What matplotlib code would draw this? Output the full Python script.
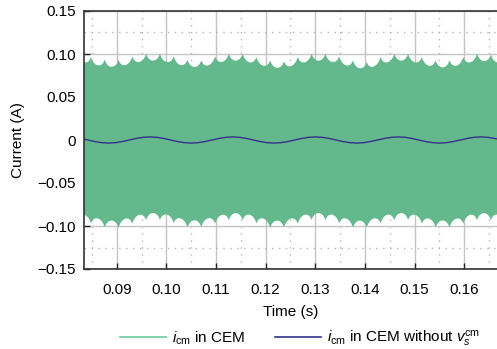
import numpy as np
import matplotlib
matplotlib.use("Agg")
from matplotlib import pyplot as plt
from matplotlib.lines import Line2D
from matplotlib.ticker import MultipleLocator

plt.rcParams['font.family'] = ['Liberation Sans', 'DejaVu Sans']
plt.rcParams['mathtext.fontset'] = 'custom'
plt.rcParams['mathtext.rm'] = 'Liberation Sans'
plt.rcParams['mathtext.it'] = 'Liberation Sans:italic'
plt.rcParams['axes.unicode_minus'] = True

# switching instants of the envelope cusps (s)
cusp_start = 0.08192
cusp_step = 0.002778

# i_cm in CEM: envelope cusp values (A)
upper_cusps = [0.1005, 0.0969, 0.0938, 0.0936, 0.0977, 0.1008, 0.1008, 0.0977,
               0.0938, 0.0930, 0.0977, 0.1008, 0.1008, 0.0969, 0.0930, 0.0919,
               0.0969, 0.1008, 0.1008, 0.0977, 0.0930, 0.0910, 0.0969, 0.1008,
               0.1008, 0.0969, 0.0930, 0.0930, 0.0969, 0.1008, 0.0997, 0.0975]
lower_cusps = [-0.0924, -0.0962, -0.1010, -0.1012, -0.0965, -0.0924, -0.0922, -0.0960,
               -0.1010, -0.1005, -0.0965, -0.0924, -0.0924, -0.0962, -0.1012, -0.1010,
               -0.0965, -0.0922, -0.0924, -0.0962, -0.1012, -0.1012, -0.0962, -0.0924,
               -0.0922, -0.0965, -0.1010, -0.1010, -0.0965, -0.0924, -0.0925, -0.0960]
scallop_depth = 0.0080
# shape of one scallop between two cusps (fraction of depth)
scallop_pos = [0, 0.1, 0.2, 0.3, 0.4, 0.5, 0.6, 0.7, 0.8, 0.9]
scallop_shape = [0, 0.45, 0.72, 0.88, 0.97, 1.0, 0.97, 0.88, 0.72, 0.45]

# i_cm in CEM without v_s^cm (A), sampled every 1.389 ms from t = 0.0828 s
blue_start = 0.0828
blue_step = 0.0013889
blue_vals = [0.0018, 0.0, -0.0018, -0.0031, -0.0036, -0.0031, -0.0018,
             0.0, 0.0018, 0.0031, 0.0036, 0.0031, 0.0018,
             0.0, -0.0018, -0.0031, -0.0036, -0.0031, -0.0018,
             0.0, 0.0018, 0.0031, 0.0036, 0.0031, 0.0018,
             0.0, -0.0018, -0.0031, -0.0036, -0.0031, -0.0018,
             0.0, 0.0018, 0.0031, 0.0036, 0.0031, 0.0018,
             0.0, -0.0018, -0.0031, -0.0036, -0.0031, -0.0018,
             0.0, 0.0018, 0.0031, 0.0036, 0.0031, 0.0018,
             0.0, -0.0018, -0.0031, -0.0036, -0.0031, -0.0018,
             0.0, 0.0018, 0.0031, 0.0036, 0.0031, 0.0018,
             0.0, -0.0018]

green = '#63b98c'
green_leg = '#6cc99b'
navy = '#35318a'


def envelope(cusps, sign):
    t, v = [], []
    for k in range(len(cusps) - 1):
        t0 = cusp_start + k * cusp_step
        for s, f in zip(scallop_pos, scallop_shape):
            base = cusps[k] + s * (cusps[k + 1] - cusps[k])
            t.append(t0 + s * cusp_step)
            v.append(base - sign * f * scallop_depth)
    t.append(cusp_start + (len(cusps) - 1) * cusp_step)
    v.append(cusps[-1])
    return np.array(t), np.array(v)


tu, vu = envelope(upper_cusps, 1)
tl, vl = envelope(lower_cusps, -1)
tb = blue_start + blue_step * np.arange(len(blue_vals))

fig = plt.figure(figsize=(4.97, 3.49), dpi=100)
ax = fig.add_axes([84 / 497, 1 - 269 / 349, 1 - 84 / 497, (269 - 11) / 349])

ax.fill_between(tu, vl, vu, color=green, lw=0, zorder=2)
ax.plot(tb, blue_vals, color=navy, lw=1.0, zorder=3)

ax.set_xlim(0.0834, 0.1666)
ax.set_ylim(-0.15, 0.15)
ax.xaxis.set_minor_locator(MultipleLocator(0.005))
ax.yaxis.set_minor_locator(MultipleLocator(0.025))
ax.set_xticks(np.arange(0.09, 0.1651, 0.01))
ax.set_xticklabels(['0.09', '0.10', '0.11', '0.12', '0.13', '0.14', '0.15', '0.16'])
ax.set_yticks([-0.15, -0.10, -0.05, 0, 0.05, 0.10, 0.15])
ax.set_yticklabels(['\u22120.15', '\u22120.10', '\u22120.05', '0', '0.05', '0.10', '0.15'])

ax.set_axisbelow(True)
ax.grid(which='major', color='#c4c4c4', lw=1.0, ls='-')
ax.grid(which='minor', color='#b4b4b4', lw=1.0, ls=(0, (1, 4)))

ax.tick_params(which='major', direction='in', length=4, width=1.0, color='#222222',
               labelsize=11, pad=6)
ax.tick_params(axis='x', pad=10)
ax.tick_params(which='minor', length=0)
for side in ['left', 'bottom', 'top']:
    ax.spines[side].set_color('#333333')
    ax.spines[side].set_linewidth(1.2)
ax.spines['right'].set_visible(False)

ax.set_xlabel('Time (s)', fontsize=11, labelpad=6)
ax.set_ylabel('Current (A)', fontsize=11, labelpad=9)

handles = [Line2D([], [], color=green_leg, lw=1.2), Line2D([], [], color=navy, lw=1.2)]
labels = [r'$i_{\rm cm}$ in CEM', r'$i_{\rm cm}$ in CEM without $v_s^{\rm cm}$']
fig.legend(handles, labels, loc='center', bbox_to_anchor=(300 / 497, 1 - 339 / 349),
           ncol=2, frameon=False, fontsize=11, handlelength=3.0, columnspacing=2.0,
           handletextpad=0.4)

fig.savefig('out.png', dpi=100)
